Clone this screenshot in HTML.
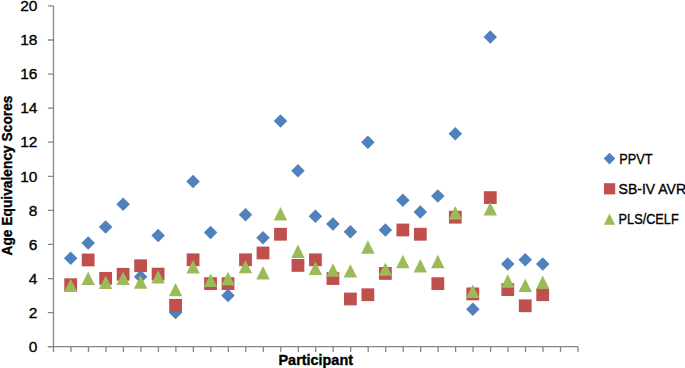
<!DOCTYPE html>
<html><head><meta charset="utf-8"><style>
html,body{margin:0;padding:0;background:#fff;}
body{width:685px;height:368px;overflow:hidden;}
svg{display:block;}
text{font-family:"Liberation Sans",sans-serif;fill:#000;stroke:#000;stroke-width:0.35px;}
.tl{font-size:15.5px;}
.lg{font-size:15.2px;}
.at{font-size:14.3px;font-weight:bold;}
</style></head><body>
<svg width="685" height="368" viewBox="0 0 685 368">
<path d="M53.5 5.90V346.7" stroke="#868686" stroke-width="1.3" fill="none"/>
<path d="M47.80 346.7H577.99" stroke="#868686" stroke-width="1.3" fill="none"/>
<path d="M47.80 346.70H53.5M47.80 312.62H53.5M47.80 278.54H53.5M47.80 244.46H53.5M47.80 210.38H53.5M47.80 176.30H53.5M47.80 142.22H53.5M47.80 108.14H53.5M47.80 74.06H53.5M47.80 39.98H53.5M47.80 5.90H53.5M53.50 346.7V352.00M70.98 346.7V352.00M88.47 346.7V352.00M105.95 346.7V352.00M123.43 346.7V352.00M140.92 346.7V352.00M158.40 346.7V352.00M175.88 346.7V352.00M193.36 346.7V352.00M210.85 346.7V352.00M228.33 346.7V352.00M245.81 346.7V352.00M263.30 346.7V352.00M280.78 346.7V352.00M298.26 346.7V352.00M315.75 346.7V352.00M333.23 346.7V352.00M350.71 346.7V352.00M368.19 346.7V352.00M385.68 346.7V352.00M403.16 346.7V352.00M420.64 346.7V352.00M438.13 346.7V352.00M455.61 346.7V352.00M473.09 346.7V352.00M490.57 346.7V352.00M508.06 346.7V352.00M525.54 346.7V352.00M543.02 346.7V352.00M560.51 346.7V352.00M577.99 346.7V352.00" stroke="#868686" stroke-width="1.3" fill="none"/>
<text x="37.4" y="351.90" text-anchor="end" class="tl">0</text>
<text x="37.4" y="317.82" text-anchor="end" class="tl">2</text>
<text x="37.4" y="283.74" text-anchor="end" class="tl">4</text>
<text x="37.4" y="249.66" text-anchor="end" class="tl">6</text>
<text x="37.4" y="215.58" text-anchor="end" class="tl">8</text>
<text x="37.4" y="181.50" text-anchor="end" class="tl">10</text>
<text x="37.4" y="147.42" text-anchor="end" class="tl">12</text>
<text x="37.4" y="113.34" text-anchor="end" class="tl">14</text>
<text x="37.4" y="79.26" text-anchor="end" class="tl">16</text>
<text x="37.4" y="45.18" text-anchor="end" class="tl">18</text>
<text x="37.4" y="11.10" text-anchor="end" class="tl">20</text>
<path d="M70.68 251.51L77.43 258.26L70.68 265.01L63.93 258.26Z" fill="#4f81bd"/>
<path d="M88.17 236.35L94.92 243.10L88.17 249.85L81.42 243.10Z" fill="#4f81bd"/>
<path d="M105.65 220.33L112.40 227.08L105.65 233.83L98.90 227.08Z" fill="#4f81bd"/>
<path d="M123.13 197.50L129.88 204.25L123.13 211.00L116.38 204.25Z" fill="#4f81bd"/>
<path d="M140.62 270.09L147.37 276.84L140.62 283.59L133.87 276.84Z" fill="#4f81bd"/>
<path d="M158.10 228.68L164.85 235.43L158.10 242.18L151.35 235.43Z" fill="#4f81bd"/>
<path d="M175.58 305.87L182.33 312.62L175.58 319.37L168.83 312.62Z" fill="#4f81bd"/>
<path d="M193.06 174.66L199.81 181.41L193.06 188.16L186.31 181.41Z" fill="#4f81bd"/>
<path d="M210.55 225.78L217.30 232.53L210.55 239.28L203.80 232.53Z" fill="#4f81bd"/>
<path d="M228.03 288.83L234.78 295.58L228.03 302.33L221.28 295.58Z" fill="#4f81bd"/>
<path d="M245.51 208.06L252.26 214.81L245.51 221.56L238.76 214.81Z" fill="#4f81bd"/>
<path d="M263.00 230.89L269.75 237.64L263.00 244.39L256.25 237.64Z" fill="#4f81bd"/>
<path d="M280.48 114.17L287.23 120.92L280.48 127.67L273.73 120.92Z" fill="#4f81bd"/>
<path d="M297.96 164.10L304.71 170.85L297.96 177.60L291.21 170.85Z" fill="#4f81bd"/>
<path d="M315.44 209.59L322.19 216.34L315.44 223.09L308.69 216.34Z" fill="#4f81bd"/>
<path d="M332.93 217.26L339.68 224.01L332.93 230.76L326.18 224.01Z" fill="#4f81bd"/>
<path d="M350.41 224.93L357.16 231.68L350.41 238.43L343.66 231.68Z" fill="#4f81bd"/>
<path d="M367.89 135.47L374.64 142.22L367.89 148.97L361.14 142.22Z" fill="#4f81bd"/>
<path d="M385.38 223.23L392.13 229.98L385.38 236.73L378.63 229.98Z" fill="#4f81bd"/>
<path d="M402.86 193.41L409.61 200.16L402.86 206.91L396.11 200.16Z" fill="#4f81bd"/>
<path d="M420.34 205.33L427.09 212.08L420.34 218.83L413.59 212.08Z" fill="#4f81bd"/>
<path d="M437.83 189.15L444.58 195.90L437.83 202.65L431.08 195.90Z" fill="#4f81bd"/>
<path d="M455.31 126.95L462.06 133.70L455.31 140.45L448.56 133.70Z" fill="#4f81bd"/>
<path d="M472.79 302.46L479.54 309.21L472.79 315.96L466.04 309.21Z" fill="#4f81bd"/>
<path d="M490.27 30.16L497.02 36.91L490.27 43.66L483.52 36.91Z" fill="#4f81bd"/>
<path d="M507.76 257.31L514.51 264.06L507.76 270.81L501.01 264.06Z" fill="#4f81bd"/>
<path d="M525.24 253.05L531.99 259.80L525.24 266.55L518.49 259.80Z" fill="#4f81bd"/>
<path d="M542.72 257.31L549.47 264.06L542.72 270.81L535.97 264.06Z" fill="#4f81bd"/>
<rect x="64.28" y="278.27" width="12.80" height="12.80" fill="#c0504d"/>
<rect x="81.77" y="253.57" width="12.80" height="12.80" fill="#c0504d"/>
<rect x="99.25" y="271.97" width="12.80" height="12.80" fill="#c0504d"/>
<rect x="116.73" y="267.88" width="12.80" height="12.80" fill="#c0504d"/>
<rect x="134.22" y="259.36" width="12.80" height="12.80" fill="#c0504d"/>
<rect x="151.70" y="267.71" width="12.80" height="12.80" fill="#c0504d"/>
<rect x="169.18" y="298.89" width="12.80" height="12.80" fill="#c0504d"/>
<rect x="186.66" y="253.40" width="12.80" height="12.80" fill="#c0504d"/>
<rect x="204.15" y="277.25" width="12.80" height="12.80" fill="#c0504d"/>
<rect x="221.63" y="277.25" width="12.80" height="12.80" fill="#c0504d"/>
<rect x="239.11" y="253.40" width="12.80" height="12.80" fill="#c0504d"/>
<rect x="256.60" y="246.58" width="12.80" height="12.80" fill="#c0504d"/>
<rect x="274.08" y="227.84" width="12.80" height="12.80" fill="#c0504d"/>
<rect x="291.56" y="259.02" width="12.80" height="12.80" fill="#c0504d"/>
<rect x="309.05" y="253.40" width="12.80" height="12.80" fill="#c0504d"/>
<rect x="326.53" y="272.14" width="12.80" height="12.80" fill="#c0504d"/>
<rect x="344.01" y="292.59" width="12.80" height="12.80" fill="#c0504d"/>
<rect x="361.49" y="288.33" width="12.80" height="12.80" fill="#c0504d"/>
<rect x="378.98" y="267.03" width="12.80" height="12.80" fill="#c0504d"/>
<rect x="396.46" y="223.58" width="12.80" height="12.80" fill="#c0504d"/>
<rect x="413.94" y="227.84" width="12.80" height="12.80" fill="#c0504d"/>
<rect x="431.43" y="277.25" width="12.80" height="12.80" fill="#c0504d"/>
<rect x="448.91" y="210.80" width="12.80" height="12.80" fill="#c0504d"/>
<rect x="466.39" y="287.48" width="12.80" height="12.80" fill="#c0504d"/>
<rect x="483.88" y="191.20" width="12.80" height="12.80" fill="#c0504d"/>
<rect x="501.36" y="283.22" width="12.80" height="12.80" fill="#c0504d"/>
<rect x="518.84" y="299.40" width="12.80" height="12.80" fill="#c0504d"/>
<rect x="536.32" y="288.33" width="12.80" height="12.80" fill="#c0504d"/>
<path d="M70.68 278.66L77.38 292.06L63.98 292.06Z" fill="#9bbb59"/>
<path d="M88.17 271.50L94.87 284.90L81.47 284.90Z" fill="#9bbb59"/>
<path d="M105.65 275.59L112.35 288.99L98.95 288.99Z" fill="#9bbb59"/>
<path d="M123.13 271.50L129.83 284.90L116.43 284.90Z" fill="#9bbb59"/>
<path d="M140.62 275.25L147.31 288.65L133.92 288.65Z" fill="#9bbb59"/>
<path d="M158.10 270.14L164.80 283.54L151.40 283.54Z" fill="#9bbb59"/>
<path d="M175.58 282.92L182.28 296.32L168.88 296.32Z" fill="#9bbb59"/>
<path d="M193.06 260.08L199.76 273.48L186.36 273.48Z" fill="#9bbb59"/>
<path d="M210.55 273.54L217.25 286.94L203.85 286.94Z" fill="#9bbb59"/>
<path d="M228.03 271.84L234.73 285.24L221.33 285.24Z" fill="#9bbb59"/>
<path d="M245.51 259.91L252.21 273.31L238.81 273.31Z" fill="#9bbb59"/>
<path d="M263.00 266.05L269.70 279.45L256.30 279.45Z" fill="#9bbb59"/>
<path d="M280.48 207.09L287.18 220.49L273.78 220.49Z" fill="#9bbb59"/>
<path d="M297.96 244.58L304.66 257.98L291.26 257.98Z" fill="#9bbb59"/>
<path d="M315.44 261.62L322.14 275.02L308.75 275.02Z" fill="#9bbb59"/>
<path d="M332.93 263.32L339.63 276.72L326.23 276.72Z" fill="#9bbb59"/>
<path d="M350.41 264.17L357.11 277.57L343.71 277.57Z" fill="#9bbb59"/>
<path d="M367.89 240.32L374.59 253.72L361.19 253.72Z" fill="#9bbb59"/>
<path d="M385.38 262.47L392.08 275.87L378.68 275.87Z" fill="#9bbb59"/>
<path d="M402.86 254.80L409.56 268.20L396.16 268.20Z" fill="#9bbb59"/>
<path d="M420.34 259.06L427.04 272.46L413.64 272.46Z" fill="#9bbb59"/>
<path d="M437.83 254.80L444.53 268.20L431.13 268.20Z" fill="#9bbb59"/>
<path d="M455.31 206.07L462.01 219.47L448.61 219.47Z" fill="#9bbb59"/>
<path d="M472.79 284.62L479.49 298.02L466.09 298.02Z" fill="#9bbb59"/>
<path d="M490.27 201.98L496.97 215.38L483.57 215.38Z" fill="#9bbb59"/>
<path d="M507.76 274.23L514.46 287.63L501.06 287.63Z" fill="#9bbb59"/>
<path d="M525.24 278.66L531.94 292.06L518.54 292.06Z" fill="#9bbb59"/>
<path d="M542.72 275.59L549.42 288.99L536.02 288.99Z" fill="#9bbb59"/>
<path d="M609.50 152.80L615.30 158.60L609.50 164.40L603.70 158.60Z" fill="#4f81bd"/>
<rect x="604.00" y="183.20" width="11.20" height="11.20" fill="#c0504d"/>
<path d="M609.50 213.50L615.10 224.70L603.90 224.70Z" fill="#9bbb59"/>
<text x="619.3" y="163.9" class="lg" textLength="33.2" lengthAdjust="spacingAndGlyphs">PPVT</text>
<text x="618.6" y="194.1" class="lg" textLength="67.5" lengthAdjust="spacingAndGlyphs">SB-IV AVR</text>
<text x="618.6" y="224.3" class="lg" textLength="60.1" lengthAdjust="spacingAndGlyphs">PLS/CELF</text>
<text x="278.5" y="364.7" class="at" textLength="74.5" lengthAdjust="spacingAndGlyphs">Participant</text>
<text transform="translate(11.7 255.5) rotate(-90)" x="0" y="0" class="at" style="font-size:14.6px" textLength="160" lengthAdjust="spacingAndGlyphs">Age Equivalency Scores</text>
</svg>
</body></html>
